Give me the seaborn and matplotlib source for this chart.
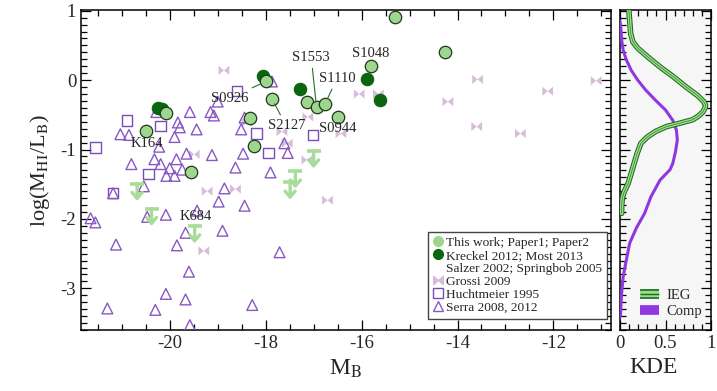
import numpy as np
import matplotlib
matplotlib.use("Agg")
import matplotlib.pyplot as plt
import matplotlib.patheffects as pe
from matplotlib.lines import Line2D
from matplotlib.markers import MarkerStyle
from matplotlib.path import Path
from matplotlib.ticker import MultipleLocator
import seaborn as sns

# ---------------------------------------------------------------- data
# This work; Paper1; Paper2  (M_B, log(M_HI/L_B))
ieg_x = [-18.00, -17.87, -17.14, -16.94, -16.76, -16.50, -20.07, -20.49,
         -18.32, -18.25, -19.55, -15.31, -14.26, -15.80]
ieg_y = [-0.02, -0.27, -0.31, -0.39, -0.34, -0.53, -0.47, -0.73,
         -0.54, -0.95, -1.33, 0.91, 0.40, 0.21]

# Kreckel 2012; Most 2013; Salzer 2002; Springbob 2005
lit_x = [-18.05, -17.28, -20.25, -20.16, -15.89, -15.62]
lit_y = [0.06, -0.13, -0.40, -0.42, 0.02, -0.28]

# HI upper limits
lim_x = [-20.68, -20.38, -19.48, -17.38, -17.49, -17.00]
lim_y = [-1.49, -1.85, -2.10, -1.31, -1.47, -1.02]

# Grossi 2009
grossi_x = [-18.87, -17.12, -16.43, -19.49, -17.14, -18.39, -17.66, -17.55,
            -19.22, -18.63, -16.71, -19.29, -16.05, -15.65, -13.58, -14.20,
            -13.60, -12.69, -12.12, -11.11]
grossi_y = [0.14, -0.53, -0.77, -1.07, -1.15, -0.61, -0.74, -0.91,
            -1.60, -1.57, -1.73, -2.46, -0.20, -0.20, 0.01, -0.31,
            -0.67, -0.77, -0.16, -0.01]

# Huchtmeier 1995
huch_x = [-18.60, -20.89, -20.19, -21.55, -18.19, -17.02, -17.94, -20.44, -21.18]
huch_y = [-0.16, -0.58, -0.66, -0.97, -0.77, -0.79, -1.05, -1.35, -1.63]

# Serra 2008, 2012
serra_x = [-20.28, -19.58, -19.15, -19.08, -19.83, -19.79, -19.44, -21.03,
           -20.85, -19.90, -20.22, -18.44, -18.51, -17.87, -19.00, -17.61,
           -17.54, -18.47, -19.12, -19.65, -20.32, -19.86, -20.19, -20.80,
           -18.63, -19.74, -20.00, -17.90, -20.07, -19.90, -20.54, -18.86,
           -18.98, -18.44, -21.65, -21.55, -20.47, -20.08, -19.43, -19.67,
           -18.90, -21.12, -19.85, -17.71, -19.60, -20.08, -19.67, -18.28,
           -21.30, -20.30, -19.58, -21.18]
serra_y = [-0.46, -0.46, -0.46, -0.51, -0.61, -0.68, -0.71, -0.78,
           -0.79, -0.82, -0.96, -0.54, -0.71, -0.02, -0.31, -0.91,
           -1.05, -1.06, -1.08, -1.06, -1.14, -1.14, -1.21, -1.21,
           -1.26, -1.29, -1.27, -1.33, -1.38, -1.38, -1.53, -1.56,
           -1.75, -1.81, -1.99, -2.05, -1.97, -1.94, -1.88, -2.20,
           -2.17, -2.37, -2.38, -2.48, -2.76, -3.08, -3.16, -3.24,
           -3.29, -3.31, -3.53, -1.63]

# Named galaxies; a link index points into ieg_x/ieg_y for a leader line
galaxy_names = ["S0926", "S2127", "S1553", "S1110", "S1048", "S0944", "K164", "K684"]
galaxy_link = [0, 1, 3, 4, None, None, None, None]

# Kernel density estimates of log(M_HI/L_B)
kde_ieg_y = [1.02, 0.86, 0.67, 0.55, 0.46, 0.34, 0.19, 0.05, -0.10, -0.22,
             -0.31, -0.36, -0.40, -0.46, -0.52, -0.57, -0.62, -0.67, -0.74,
             -0.82, -0.91, -1.05, -1.20, -1.34, -1.49, -1.61, -1.70, -1.82, -1.92]
kde_ieg_d = [0.096, 0.106, 0.117, 0.142, 0.195, 0.30, 0.44, 0.585, 0.727, 0.85,
             0.92, 0.94, 0.935, 0.91, 0.86, 0.80, 0.66, 0.51, 0.39,
             0.30, 0.23, 0.19, 0.155, 0.124, 0.089, 0.046, 0.025, 0.018, 0.018]

kde_comp_y = [0.85, 0.74, 0.58, 0.43, 0.29, 0.14, 0.0, -0.14, -0.29, -0.43,
              -0.58, -0.72, -0.86, -1.03, -1.20, -1.29, -1.44, -1.68, -1.92,
              -2.13, -2.35, -2.59, -2.83, -3.07, -3.26, -3.41]
kde_comp_d = [0.0, 0.01, 0.018, 0.035, 0.07, 0.124, 0.195, 0.28, 0.39, 0.50,
              0.58, 0.62, 0.63, 0.61, 0.58, 0.55, 0.44, 0.34, 0.27,
              0.18, 0.106, 0.07, 0.035, 0.018, 0.01, 0.005]

# ---------------------------------------------------------------- style
LIGHT = "#9ed68e"
LIMIT = "#a9dc9a"
DARK = "#0b650f"
GROSSI = "#d8bcd9"
SQ_COL = "#7a4cb4"
TRI_COL = "#8858c4"
COMP = "#9038e0"
IEG_EDGE = "#1c6a1c"
IEG_FILL = "#9bdc8a"

sns.set_theme(style="ticks")
plt.rcParams["font.family"] = ["Liberation Serif", "DejaVu Serif"]
plt.rcParams["mathtext.fontset"] = "stix"
plt.rcParams["axes.unicode_minus"] = False

fig = plt.figure(figsize=(7.17, 3.91), dpi=100)
ax = fig.add_axes([81 / 717, 61 / 391, 530 / 717, 320 / 391])
axk = fig.add_axes([620 / 717, 61 / 391, 91 / 717, 320 / 391], sharey=ax)

# bow-tie marker
bowtie = MarkerStyle(Path([(-1, -0.85), (-1, 0.85), (0, 0), (1, 0.85), (1, -0.85), (0, 0), (-1, -0.85)],
                          [1, 2, 2, 2, 2, 2, 79]))

sns.scatterplot(x=grossi_x, y=grossi_y, marker=bowtie, s=60, color=GROSSI,
                edgecolor="none", linewidth=0, ax=ax, zorder=2, legend=False)
sns.scatterplot(x=huch_x, y=huch_y, marker="s", s=55, facecolor="none",
                edgecolor=SQ_COL, linewidth=1.0, ax=ax, zorder=3, legend=False)
sns.scatterplot(x=serra_x, y=serra_y, marker="^", s=60, facecolor="none",
                edgecolor=TRI_COL, linewidth=1.0, ax=ax, zorder=3, legend=False)

# upper limits: horizontal bar plus downward arrow
sns.scatterplot(x=lim_x, y=lim_y, marker="_", s=110, color=LIMIT,
                linewidth=2.6, ax=ax, zorder=4, legend=False)
ARROW_LEN = 0.25
for xv, yv in zip(lim_x, lim_y):
    ax.annotate("", xy=(xv, yv - ARROW_LEN), xytext=(xv, yv),
                arrowprops=dict(arrowstyle="->,head_length=0.35,head_width=0.3",
                                color=LIMIT, lw=2.4, shrinkA=0, shrinkB=0),
                zorder=4)

sns.scatterplot(x=lit_x, y=lit_y, marker="o", s=80, color=DARK,
                edgecolor=DARK, linewidth=0.8, ax=ax, zorder=5, legend=False)
sns.scatterplot(x=ieg_x, y=ieg_y, marker="o", s=80, color=LIGHT,
                edgecolor="#1f3a1f", linewidth=0.9, ax=ax, zorder=6, legend=False)

# galaxy names
label_pos = {"S0926": (-18.74, -0.26), "S2127": (-17.57, -0.66), "S1553": (-17.05, 0.33),
             "S1110": (-16.51, 0.03), "S1048": (-15.80, 0.39), "S0944": (-16.49, -0.69),
             "K164": (-20.48, -0.92), "K684": (-19.46, -1.96)}
for name, idx in zip(galaxy_names, galaxy_link):
    tx, ty = label_pos[name]
    if idx is None:
        ax.text(tx, ty, name, ha="center", va="center", fontsize=10.5, zorder=7)
    else:
        ax.annotate(name, xy=(ieg_x[idx], ieg_y[idx]), xytext=(tx, ty),
                    ha="center", va="center", fontsize=10.5, zorder=7,
                    arrowprops=dict(arrowstyle="-", color="#2d6b2d", lw=0.8,
                                    shrinkA=1, shrinkB=4))

ax.set_xlim(-21.85, -10.8)
ax.set_ylim(-3.6, 1.01)
ax.xaxis.set_major_locator(MultipleLocator(2))
ax.xaxis.set_minor_locator(MultipleLocator(0.5))
ax.yaxis.set_major_locator(MultipleLocator(1))
ax.yaxis.set_minor_locator(MultipleLocator(0.1))
ax.set_xlabel(r"M$_{\rm B}$", fontsize=17, labelpad=4)
ax.set_ylabel(r"log(M$_{\rm HI}$/L$_{\rm B}$)", fontsize=16, labelpad=6)

for a in (ax, axk):
    a.tick_params(which="both", direction="in", top=True, right=True,
                  labelsize=13.5, color="black", width=0.9)
    a.tick_params(which="major", length=7)
    a.tick_params(which="minor", length=4)
    for sp in a.spines.values():
        sp.set_visible(True)
        sp.set_color("black")
        sp.set_linewidth(1.1)

# legend of the samples
h_ieg = Line2D([], [], ls="none", marker="o", ms=7, mfc=LIGHT, mec=LIGHT)
h_lit = Line2D([], [], ls="none", marker="o", ms=7, mfc=DARK, mec=DARK)
h_blank = Line2D([], [], ls="none")
h_gro = Line2D([], [], ls="none", marker=bowtie, ms=7, mfc=GROSSI, mec=GROSSI)
h_huc = Line2D([], [], ls="none", marker="s", ms=7, mfc="none", mec=SQ_COL)
h_ser = Line2D([], [], ls="none", marker="^", ms=7, mfc="none", mec=TRI_COL)
leg = ax.legend([h_ieg, h_lit, h_blank, h_gro, h_huc, h_ser],
                ["This work; Paper1; Paper2", "Kreckel 2012; Most 2013",
                 "Salzer 2002; Springbob 2005", "Grossi 2009", "Huchtmeier 1995",
                 "Serra 2008, 2012"],
                loc="lower right", bbox_to_anchor=(0.993, 0.035), borderaxespad=0,
                fontsize=9.6, handlelength=0.7, handletextpad=0.3, labelspacing=0.05,
                borderpad=0.35, frameon=True, fancybox=False, framealpha=1)
leg.get_frame().set_edgecolor("#444444")
leg.get_frame().set_linewidth(1.0)

# KDE panel
axk.set_facecolor("#f6f6f6")
ieg_fx = [pe.Stroke(linewidth=4.0, foreground=IEG_EDGE),
          pe.Stroke(linewidth=2.5, foreground=IEG_FILL), pe.Normal()]
sns.lineplot(x=kde_comp_d, y=kde_comp_y, orient="y", sort=False, estimator=None,
             color=COMP, lw=2.2, ax=axk, zorder=3)
sns.lineplot(x=kde_ieg_d, y=kde_ieg_y, orient="y", sort=False, estimator=None,
             color=IEG_EDGE, lw=0.4, ax=axk, zorder=4, path_effects=ieg_fx)
axk.set_xlim(0, 1.0)
axk.xaxis.set_major_locator(MultipleLocator(0.5))
axk.xaxis.set_minor_locator(MultipleLocator(0.1))
axk.set_xticks([0, 0.5, 1])
axk.set_xticklabels(["0", "0.5", "1"])
axk.tick_params(labelleft=False)
axk.set_ylabel("")
axk.set_xlabel("KDE", fontsize=17, labelpad=4)
axk.xaxis.label.set_x(0.37)

h_kieg = Line2D([], [], color=IEG_EDGE, lw=1.0, solid_capstyle="butt",
                path_effects=[pe.Stroke(linewidth=7, foreground=IEG_EDGE, capstyle="butt"),
                              pe.Stroke(linewidth=4.6, foreground=IEG_FILL, capstyle="butt"),
                              pe.Normal()])
h_kcomp = Line2D([], [], color=COMP, lw=7, solid_capstyle="butt")
axk.legend([h_kieg, h_kcomp], ["IEG", "Comp"], loc="lower right",
           bbox_to_anchor=(1.0, 0.01), fontsize=10.5, handlelength=1.3,
           handletextpad=0.5, labelspacing=0.2, frameon=False, borderaxespad=0.2)

fig.savefig("out.png", dpi=100)
